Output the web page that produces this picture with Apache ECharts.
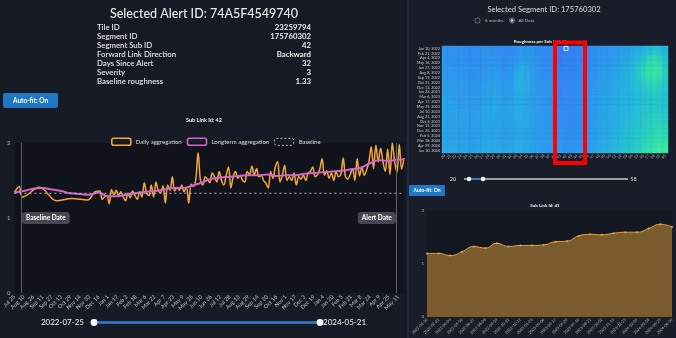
<!DOCTYPE html>
<html><head><meta charset="utf-8">
<script src="https://cdn.jsdelivr.net/npm/echarts@6/dist/echarts.min.js"></script>
<style>html,body{margin:0;padding:0;background:#161b26;overflow:hidden}#c{width:676px;height:338px}</style>
</head><body><div id="c"></div>
<script>
// ---------------- data ----------------
const alertTitle = 'Selected Alert ID: 74A5F4549740';
const alertInfoLabels = ['Tile ID','Segment ID','Segment Sub ID','Forward Link Direction','Days Since Alert','Severity','Baseline roughness'];
const alertInfoValues = ['23259794','175760302','42','Backward','32','3','1.33'];
const rangeStart = '2022-07-25';
const rangeEnd = '2024-05-21';
const baselineValue = 1.33;
const baselineDate = '2022-08-05';
const alertDate = '2024-05-08';
const dailyEarlyDates = ['2022-07-25','2022-08-02','2022-08-08','2022-09-06','2022-10-05','2022-10-31','2022-11-27','2022-12-10'];
const dailyEarlyValues = [1.34,1.42,1.28,1.41,1.23,1.26,1.24,1.35];
const dailyDenseStart = '2022-12-18';
const dailyDenseStepDays = 4;
const dailyDenseValues = [
 1.36,1.25,1.28,1.30,1.19,1.38,1.31,1.37,1.30,1.35,
 1.28,1.23,1.33,1.27,1.36,1.30,1.25,1.35,1.28,1.47,
 1.33,1.30,1.44,1.28,1.48,1.36,1.34,1.43,1.20,1.44,
 1.37,1.55,1.36,1.41,1.37,1.44,1.35,1.41,1.20,1.45,
 1.42,1.51,1.87,1.50,
 1.44,1.55,1.52,1.47,1.60,1.55,1.48,1.62,1.50,1.44,
 1.57,1.68,1.40,1.55,1.62,1.53,1.57,1.50,1.48,1.62,
 1.58,1.69,1.57,1.66,1.55,1.57,1.50,1.46,1.40,1.62,
 1.53,1.68,1.75,1.48,1.57,1.70,1.50,1.55,1.50,1.60,
 1.44,1.55,1.52,1.57,1.50,1.60,1.62,1.68,1.55,1.58,
 1.65,1.79,1.57,1.63,1.53,1.60,1.50,1.62,1.55,1.58,
 1.80,1.55,1.52,1.58,1.66,1.50,1.79,1.56,1.68,1.57,
 1.64,1.75,1.95,1.66,1.97,1.75,1.93,1.75,1.62,1.92,
 1.58,2.00,1.75,1.61,1.98,1.65,1.80];
const longtermStepDays = 16;
const longtermValues = [
 1.34,1.36,1.39,1.40,1.38,1.36,1.33,1.32,1.31,1.34,
 1.29,1.29,1.31,1.33,1.35,1.36,1.38,1.40,1.40,1.43,
 1.47,1.52,1.54,1.55,1.56,1.57,1.57,1.58,1.56,1.57,
 1.57,1.59,1.60,1.61,1.62,1.63,1.65,1.67,1.73,1.77,
 1.76,1.78,1.78];

const segmentTitle = 'Selected Segment ID: 175760302';
const periodDates = ['2022-01-10','2022-02-21','2022-04-04','2022-05-16','2022-06-27','2022-08-08','2022-09-19','2022-10-31','2022-12-12','2023-01-23','2023-03-06','2023-04-17','2023-05-29','2023-07-10','2023-08-21','2023-10-02','2023-11-13','2023-12-25','2024-02-05','2024-03-18','2024-04-29','2024-06-10'];
const subLinkIds = ['20','21','22','23','24','25','26','27','28','29','30','31','32','33','34','35','36','37','38','39','40','41','42','43','44','45','46','47','48','49','50','51','52','53','54','55','56','57','58','59','60'];
// roughness x100, rows = periodDates, columns = subLinkIds
const heatRows = [
 [160,158,162,157,155,150,152,158,160,156,150,148,152,158,162,160,158,150,148,145,138,120,130,128,132,136,140,150,158,162,165,170,172,178,185,190,195,205,215,210,200],
 [162,160,158,156,152,150,154,160,162,158,152,146,150,160,166,164,160,152,146,142,136,120,128,126,130,134,140,152,160,164,168,172,176,182,190,196,205,218,230,222,208],
 [165,162,160,158,154,150,152,158,164,162,155,148,152,165,172,168,162,154,148,144,138,116,130,128,132,136,142,154,162,166,170,175,180,186,196,205,218,235,248,236,215],
 [168,164,160,160,156,152,155,160,166,165,158,150,156,172,182,176,166,156,150,146,140,123,132,130,134,138,144,156,164,168,172,178,184,192,202,215,230,250,262,248,222],
 [170,166,162,162,158,154,158,164,170,168,162,154,160,180,192,184,170,158,152,148,142,133,134,132,136,140,146,158,166,170,175,182,188,196,208,222,238,258,268,255,228],
 [172,168,165,164,160,156,160,166,172,172,166,158,165,186,198,190,174,160,154,150,144,130,136,134,138,142,148,160,168,172,178,184,190,198,210,225,240,260,270,258,230],
 [174,170,168,166,162,158,162,168,175,175,170,162,170,190,200,192,176,162,156,152,146,139,138,136,140,144,150,162,170,175,180,186,192,200,210,224,238,255,262,250,228],
 [176,172,170,168,165,160,165,170,178,178,174,166,174,192,200,194,178,164,158,154,148,133,140,138,142,146,152,164,172,176,182,188,194,200,208,220,232,245,250,240,225],
 [178,175,172,170,168,162,168,174,180,182,178,170,176,192,198,192,178,166,160,156,150,135,142,140,144,148,154,166,174,178,184,190,195,200,206,216,226,236,240,232,222],
 [180,178,175,172,170,165,170,176,182,185,180,172,178,190,196,190,178,168,162,158,152,135,144,142,146,150,156,168,175,180,185,190,196,200,205,212,220,228,232,226,218],
 [182,180,176,174,172,168,172,178,184,186,182,175,180,190,194,188,178,168,164,160,154,136,146,144,148,152,158,170,176,182,186,192,196,200,204,210,216,222,226,222,216],
 [184,182,178,176,174,170,174,180,186,188,184,178,182,190,192,186,178,170,165,160,154,142,146,144,148,152,158,170,178,184,188,192,198,202,205,210,215,220,224,220,215],
 [185,183,180,178,176,172,176,182,188,190,186,180,184,190,192,186,178,170,166,162,155,143,147,145,149,153,160,172,180,185,190,194,198,202,206,212,216,222,226,222,218],
 [186,184,182,180,178,174,178,184,190,190,186,182,186,192,194,188,180,172,167,162,156,153,148,146,150,154,160,172,180,186,190,195,200,204,208,214,218,224,228,226,220],
 [186,185,183,181,179,175,180,186,190,190,186,182,186,192,196,190,180,172,168,163,157,156,149,147,151,155,161,174,182,186,192,196,200,206,210,216,222,228,232,230,226],
 [185,184,182,180,178,175,180,185,188,188,184,180,184,190,194,188,180,172,168,164,158,155,150,148,152,156,162,174,182,188,192,198,202,208,212,218,224,230,236,236,232],
 [184,182,180,178,176,174,178,184,186,186,182,178,182,188,192,186,178,172,168,165,159,158,151,149,153,157,163,176,184,188,194,198,204,210,214,220,226,234,240,242,238],
 [184,182,180,178,176,174,178,182,186,186,182,178,182,186,190,186,178,172,168,166,160,160,152,150,154,158,164,176,184,190,194,200,206,212,216,222,230,238,246,248,244],
 [186,184,182,180,178,176,180,184,188,188,184,180,184,188,190,186,180,174,170,167,162,160,154,152,156,160,166,178,186,190,196,202,208,214,218,226,234,242,250,254,252],
 [188,186,184,182,180,178,182,186,190,190,186,182,186,190,192,188,182,176,172,168,166,167,158,155,158,162,168,180,188,192,198,204,210,216,220,228,238,248,256,262,262],
 [190,188,186,184,182,180,184,188,192,192,188,184,188,192,194,190,184,178,174,170,170,175,160,158,160,164,170,182,190,194,200,206,212,218,222,232,242,252,262,270,272],
 [194,192,190,188,186,184,188,192,196,196,192,188,190,194,196,192,186,180,176,172,175,170,165,162,164,168,174,186,192,198,204,210,216,222,226,236,248,260,270,280,285]];
const selectedSubLink = '42';
const areaSubLink = '41';
const subLink41Values = [1.20,1.20,1.16,1.23,1.33,1.30,1.39,1.33,1.35,1.35,1.36,1.42,1.43,1.53,1.56,1.55,1.58,1.60,1.60,1.67,1.75,1.70];
const sliderMin = 20, sliderMax = 58;

// ---------------- helpers ----------------
const MON = ['Jan','Feb','Mar','Apr','May','Jun','Jul','Aug','Sep','Oct','Nov','Dec'];
function addDays(iso, n){const d=new Date(iso+'T00:00:00Z');d.setUTCDate(d.getUTCDate()+n);return d.toISOString().slice(0,10);}
function shortLabel(iso){const p=iso.split('-');return MON[+p[1]-1]+' '+(+p[2]);}
function longLabel(iso){const p=iso.split('-');return MON[+p[1]-1]+' '+(+p[2])+', '+p[0];}
const dayCats=[];for(let d=rangeStart;d<=rangeEnd;d=addDays(d,1))dayCats.push(d);
const dailyData=[];
dailyEarlyDates.forEach((d,i)=>dailyData.push([d,dailyEarlyValues[i]]));
dailyDenseValues.forEach((v,i)=>dailyData.push([addDays(dailyDenseStart,i*dailyDenseStepDays),v]));
const longData=longtermValues.map((v,i)=>{let d=addDays(rangeStart,i*longtermStepDays);if(d>rangeEnd||i===longtermValues.length-1)d=rangeEnd;return [d,v];});
const heatData=[];heatRows.forEach((row,r)=>row.forEach((v,c)=>heatData.push([subLinkIds[c],periodDates[r],v/100])));

const F='Lato, "Noto Sans", sans-serif';
const G=[];
function txt(x,y,t,size,color,align,weight){G.push({type:'text',z:50,style:{x:x,y:y,text:t,fill:color,font:(weight||'normal')+' '+size+'px '+F,textAlign:align||'left',textVerticalAlign:'middle'}});}
// panel backgrounds
G.push({type:'rect',z:-10,shape:{x:0,y:0,width:408,height:338},style:{fill:'#151a25'}});
G.push({type:'rect',z:-10,shape:{x:408,y:0,width:268,height:338},style:{fill:'#181d29'}});
G.push({type:'rect',z:-9,shape:{x:407,y:0,width:2,height:338},style:{fill:'#222837'}});
// left header
txt(204,13.5,alertTitle,12.5,'#ececec','center','500');
alertInfoLabels.forEach((l,i)=>{txt(97,27.7+9*i,l,7.8,'#e4e4e4','left','600');txt(311,27.7+9*i,alertInfoValues[i],7.8,'#ececec','right','bold');});
G.push({type:'rect',z:40,shape:{x:3,y:93,width:55,height:15,r:2},style:{fill:'#1e78c6'}});
txt(30.5,100.5,'Auto-fit: On',6.5,'#ffffff','center','bold');
txt(204,120.5,'Sub Link Id: 42',5.5,'#f0f0f0','center','bold');
// date range slider
G.push({type:'line',z:40,shape:{x1:94,y1:322.5,x2:320,y2:322.5},style:{stroke:'#2b7fd4',lineWidth:2.5}});
G.push({type:'circle',z:41,shape:{cx:94,cy:322.5,r:3.4},style:{fill:'#ffffff'}});
G.push({type:'circle',z:41,shape:{cx:320,cy:322.5,r:3.4},style:{fill:'#ffffff'}});
txt(84,322.5,rangeStart,8,'#e8e8e8','right','500');
txt(323,322.5,rangeEnd,8,'#e8e8e8','left','500');
// right header
txt(544,10,segmentTitle,7.6,'#d2d2d2','center','500');
G.push({type:'circle',z:41,shape:{cx:477.5,cy:20.5,r:2.6},style:{fill:'none',stroke:'#7a7f88',lineWidth:0.8}});
txt(485,20.5,'6 months',4.5,'#b8b8b8','left');
G.push({type:'circle',z:41,shape:{cx:512,cy:20.5,r:2.6},style:{fill:'#3a3f49',stroke:'#7a7f88',lineWidth:0.8}});
G.push({type:'circle',z:42,shape:{cx:512,cy:20.5,r:1.3},style:{fill:'#e0e0e0'}});
txt(518.5,20.5,'All Data',4.5,'#b8b8b8','left');
txt(540,41.8,'Roughness per Sub Link Id',4.5,'#f0f0f0','center','bold');
// red annotation rectangle
G.push({type:'rect',z:100,shape:{x:555,y:42.5,width:30,height:120.5},style:{fill:'none',stroke:'#ff0000',lineWidth:4}});
// sub link slider
txt(453,179,String(sliderMin),5.5,'#d8d8d8','center');
txt(633.5,179,String(sliderMax),5.5,'#d8d8d8','center');
G.push({type:'line',z:40,shape:{x1:464,y1:179,x2:628,y2:179},style:{stroke:'#c9c9c9',lineWidth:1.5}});
G.push({type:'line',z:41,shape:{x1:469,y1:179,x2:483,y2:179},style:{stroke:'#2b7fd4',lineWidth:2}});
G.push({type:'circle',z:42,shape:{cx:469,cy:179,r:2.3},style:{fill:'#ffffff'}});
G.push({type:'circle',z:42,shape:{cx:483,cy:179,r:2.3},style:{fill:'#ffffff'}});
G.push({type:'rect',z:40,shape:{x:409,y:185,width:36,height:11,r:1},style:{fill:'#1e78c6'}});
txt(427,190.5,'Auto-fit: On',5,'#ffffff','center','bold');
txt(545,206,'Sub Link Id: '+areaSubLink,4.5,'#eeeeee','center','bold');

const option={
 animation:false,
 backgroundColor:'#161b26',
 textStyle:{fontFamily:F},
 graphic:G,
 legend:{left:106,top:132.5,itemWidth:19,itemHeight:7,itemGap:5,icon:'roundRect',
   textStyle:{color:'#dcdcdc',fontSize:6,fontFamily:F},
   data:[
    {name:'Daily aggregation',itemStyle:{color:'rgba(0,0,0,0)',borderColor:'#f2a93b',borderWidth:1.6}},
    {name:'Longterm aggregation',itemStyle:{color:'rgba(0,0,0,0)',borderColor:'#d264cc',borderWidth:1.6}},
    {name:'Baseline',itemStyle:{color:'rgba(0,0,0,0)',borderColor:'#bdbdbd',borderWidth:1,borderType:[2,2]}}]},
 grid:[
  {left:14,top:143,width:390,height:150,show:true,backgroundColor:'#10131b',borderWidth:0},
  {left:442,top:46,width:226,height:107,show:false},
  {left:427,top:211,width:245,height:106,show:true,backgroundColor:'#131722',borderWidth:0}],
 xAxis:[
  {type:'category',gridIndex:0,data:dayCats,boundaryGap:false,axisLine:{show:false},axisTick:{show:false},
   axisLabel:{interval:15,rotate:45,fontSize:5.5,color:'#c4c4c4',margin:3,formatter:shortLabel,fontFamily:F}},
  {type:'category',gridIndex:1,data:subLinkIds,axisLine:{show:false},axisTick:{show:false},
   axisLabel:{interval:0,rotate:45,fontSize:3.8,color:'#bbbbbb',margin:2,fontFamily:F}},
  {type:'category',gridIndex:2,data:periodDates,boundaryGap:false,axisLine:{show:false},axisTick:{show:false},
   axisLabel:{interval:0,rotate:45,fontSize:3.8,color:'#bbbbbb',margin:2,fontFamily:F}}],
 yAxis:[
  {type:'value',gridIndex:0,min:0,max:2,interval:1,splitLine:{show:false},axisLine:{show:false},
   axisLabel:{fontSize:6,color:'#b0b0b0',margin:4,fontFamily:F}},
  {type:'category',gridIndex:1,data:periodDates,inverse:true,axisLine:{show:false},axisTick:{show:false},
   axisLabel:{interval:0,fontSize:3.8,color:'#cccccc',margin:2,formatter:longLabel,fontFamily:F}},
  {type:'value',gridIndex:2,min:0,max:2,interval:1,splitLine:{show:false},axisLine:{show:false},
   axisLabel:{fontSize:4.5,color:'#b0b0b0',margin:3,fontFamily:F}}],
 visualMap:{type:'continuous',show:false,seriesIndex:3,min:1.0,max:2.8,
   inRange:{color:['#3c70f5','#367ff3','#308ef0','#2b9deb','#25b3e0','#27cac6','#30dcb0','#3de8a0']}},
 series:[
  {name:'Daily aggregation',type:'line',xAxisIndex:0,yAxisIndex:0,data:dailyData,showSymbol:false,smooth:0.35,
   lineStyle:{color:'#f2a93b',width:1.5},itemStyle:{color:'#f2a93b'},
   markLine:{silent:true,symbol:'none',label:{show:false},lineStyle:{color:'#5c6068',width:1,type:'solid'},
     data:[{xAxis:baselineDate},{xAxis:alertDate}]},
   markPoint:{silent:true,symbol:'circle',symbolSize:0.1,itemStyle:{color:'rgba(0,0,0,0)'},
     label:{show:true,color:'#ffffff',fontSize:6.5,fontWeight:'bold',fontFamily:F,backgroundColor:'#45494f',borderRadius:3,padding:[3,4,2,4]},
     data:[{coord:[baselineDate,1],label:{position:'right',distance:1,formatter:'Baseline Date'}},
           {coord:[alertDate,1],label:{position:'left',distance:0.5,formatter:'Alert Date'}}]}},
  {name:'Longterm aggregation',type:'line',xAxisIndex:0,yAxisIndex:0,data:longData,showSymbol:false,smooth:true,
   lineStyle:{color:'#d264cc',width:2},itemStyle:{color:'#d264cc'}},
  {name:'Baseline',type:'line',xAxisIndex:0,yAxisIndex:0,data:[[rangeStart,baselineValue],[rangeEnd,baselineValue]],showSymbol:false,
   lineStyle:{color:'#b8b8b8',width:1.2,type:[2,3]},itemStyle:{color:'#b8b8b8'}},
  {name:'Roughness',type:'heatmap',xAxisIndex:1,yAxisIndex:1,data:heatData,itemStyle:{borderWidth:0}},
  {name:'Selected',type:'scatter',xAxisIndex:1,yAxisIndex:1,data:[[selectedSubLink,periodDates[0]]],symbol:'rect',symbolSize:4,
   itemStyle:{color:'rgba(0,0,0,0)',borderColor:'#ffffff',borderWidth:1},z:5},
  {name:'Sub Link '+areaSubLink,type:'line',xAxisIndex:2,yAxisIndex:2,data:subLink41Values,smooth:true,symbol:'circle',symbolSize:2,
   lineStyle:{color:'#e9a437',width:1},itemStyle:{color:'#e9a437'},areaStyle:{color:'#7a5b2e',opacity:1}}]
};
const chart=echarts.init(document.getElementById('c'),null,{renderer:'canvas'});
chart.setOption(option);
</script></body></html>
